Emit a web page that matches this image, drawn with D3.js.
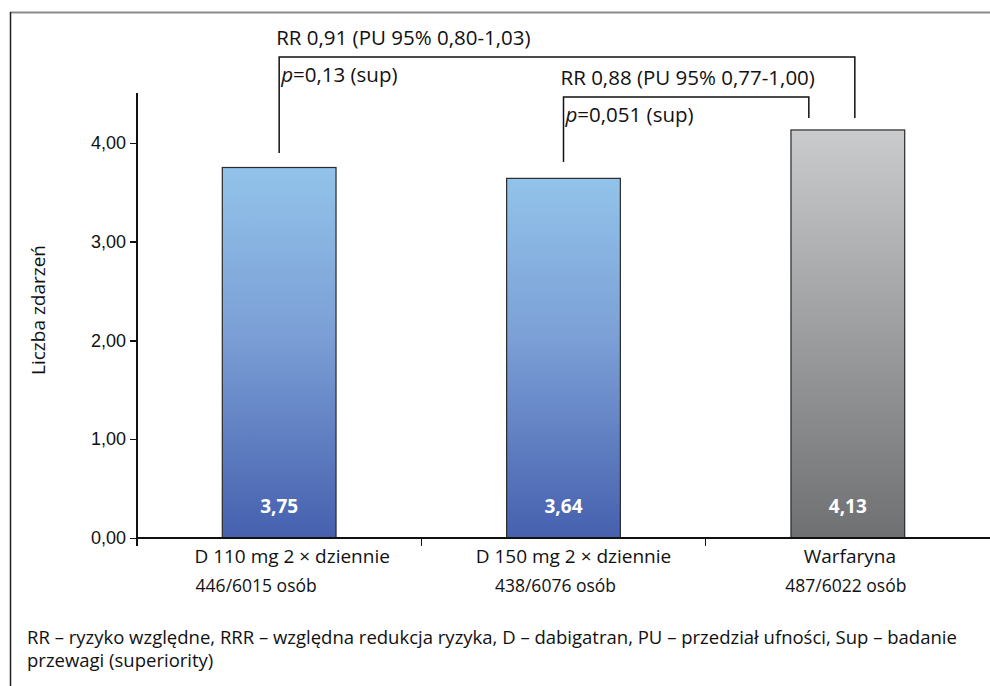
<!DOCTYPE html>
<html lang="pl">
<head>
    <meta charset="UTF-8">
    <title>Liczba zdarzeń</title>
    <script src="https://d3js.org/d3.v7.min.js"></script>
    <style>
        body { margin: 0; background: #fff; }
        svg { display: block; font-family: "Open Sans", "Noto Sans", sans-serif; }
        .axis text { font-size: 16px; fill: #111; }
        .axis path, .axis line { stroke: #111; stroke-width: 1.5; shape-rendering: crispEdges; }
    </style>
</head>
<body>
<script>
    // dane
    const categories = ["D 110 mg 2 × dziennie", "D 150 mg 2 × dziennie", "Warfaryna"];
    const subLabels = ["446/6015 osób", "438/6076 osób", "487/6022 osób"];
    const values = [3.75, 3.64, 4.13];
    const valueLabels = ["3,75", "3,64", "4,13"];
    const yTicks = [0, 1, 2, 3, 4];
    const comparisons = [
        { from: 0, to: 2, rr: "RR 0,91 (PU 95% 0,80-1,03)", p: "=0,13 (sup)" },
        { from: 1, to: 2, rr: "RR 0,88 (PU 95% 0,77-1,00)", p: "=0,051 (sup)" }
    ];
    const footnote = [
        "RR – ryzyko względne, RRR – względna redukcja ryzyka, D – dabigatran, PU – przedział ufności, Sup – badanie",
        "przewagi (superiority)"
    ];

    const width = 990, height = 686;
    const margin = { top: 93, right: 0, bottom: 148, left: 137 };
    const innerW = width - margin.left - margin.right;
    const innerH = height - margin.top - margin.bottom;

    // etykiety w oryginale nie są idealnie wyśrodkowane
    const catShift = [13, 10, 2];
    const subShift = [-23, -8, -2];

    const svg = d3.select("body").append("svg")
        .attr("width", width)
        .attr("height", height);

    // ramka
    svg.append("line").attr("x1", 10).attr("x2", width).attr("y1", 12.5).attr("y2", 12.5)
        .attr("stroke", "#8a8a8a").attr("stroke-width", 2);
    svg.append("line").attr("x1", 10.5).attr("x2", 10.5).attr("y1", 12).attr("y2", height)
        .attr("stroke", "#222").attr("stroke-width", 1.5);

    const defs = svg.append("defs");
    const gradBlue = defs.append("linearGradient").attr("id", "gBlue")
        .attr("x1", 0).attr("y1", 0).attr("x2", 0).attr("y2", 1);
    gradBlue.append("stop").attr("offset", "0%").attr("stop-color", "#92c3ea");
    gradBlue.append("stop").attr("offset", "45%").attr("stop-color", "#7b9fd6");
    gradBlue.append("stop").attr("offset", "100%").attr("stop-color", "#4660ae");
    const gradGray = defs.append("linearGradient").attr("id", "gGray")
        .attr("x1", 0).attr("y1", 0).attr("x2", 0).attr("y2", 1);
    gradGray.append("stop").attr("offset", "0%").attr("stop-color", "#cacbcd");
    gradGray.append("stop").attr("offset", "100%").attr("stop-color", "#6f7072");

    const g = svg.append("g").attr("transform", `translate(${margin.left},${margin.top})`);

    const x = d3.scaleBand().domain(categories).range([0, innerW]).padding(0);
    const y = d3.scaleLinear().domain([0, 4.5]).range([innerH, innerH - 4.5 * 98.8]);

    const barW = x.bandwidth() * 0.4;
    const cx = i => x(categories[i]) + x.bandwidth() / 2;

    // oś Y
    const yAxis = g.append("g").attr("class", "axis")
        .call(d3.axisLeft(y).tickValues(yTicks).tickSize(7).tickSizeOuter(0)
            .tickFormat(d => d3.format(".2f")(d).replace(".", ",")));
    yAxis.select(".domain").attr("d", `M0,${innerH}V0`);
    yAxis.selectAll("text").attr("x", -11).style("font-size", "18px");

    // słupki
    g.selectAll("rect.bar").data(values).enter().append("rect")
        .attr("class", "bar")
        .attr("x", (d, i) => cx(i) - barW / 2)
        .attr("y", d => y(d))
        .attr("width", barW)
        .attr("height", d => y(0) - y(d))
        .attr("fill", (d, i) => i === 2 ? "url(#gGray)" : "url(#gBlue)")
        .attr("stroke", "#2a2a2a").attr("stroke-width", 1.2);

    g.selectAll("text.val").data(valueLabels).enter().append("text")
        .attr("class", "val")
        .attr("x", (d, i) => cx(i))
        .attr("y", y(0) - 25)
        .attr("text-anchor", "middle")
        .attr("fill", "#fff")
        .style("font-size", "19px").style("font-weight", "bold")
        .text(d => d);

    // oś X
    const xAxis = g.append("g").attr("class", "axis")
        .attr("transform", `translate(0,${innerH})`);
    xAxis.append("path").attr("d", `M0,0H${innerW}`).attr("stroke", "#111").attr("stroke-width", 1.5);
    xAxis.selectAll("line.tick").data(categories).enter().append("line")
        .attr("x1", d => x(d)).attr("x2", d => x(d))
        .attr("y1", 0).attr("y2", 8);
    xAxis.selectAll("text.cat").data(categories).enter().append("text")
        .attr("class", "cat")
        .attr("x", (d, i) => cx(i) + catShift[i])
        .attr("y", 25)
        .attr("text-anchor", "middle")
        .style("font-size", "19px")
        .text(d => d);
    xAxis.selectAll("text.sub").data(subLabels).enter().append("text")
        .attr("class", "sub")
        .attr("x", (d, i) => cx(i) + subShift[i])
        .attr("y", 54)
        .attr("text-anchor", "middle")
        .style("font-size", "17.5px")
        .text(d => d);

    // tytuł osi Y
    svg.append("text")
        .attr("transform", `translate(45,310) rotate(-90)`)
        .attr("text-anchor", "middle")
        .style("font-size", "19px").attr("fill", "#111")
        .text("Liczba zdarzeń");

    // porównania
    const bracketTops = [57, 97];
    const leftEnds = [153, 162];
    comparisons.forEach((c, k) => {
        const x1 = cx(c.from), x2 = cx(c.to) + (k === 0 ? 7 : -39);
        const top = bracketTops[k] - margin.top;
        const gb = g.append("g");
        gb.append("path")
            .attr("d", `M${x1},${leftEnds[k] - margin.top}V${top}H${x2}V${118 - margin.top}`)
            .attr("fill", "none").attr("stroke", "#111").attr("stroke-width", 1.5);
        gb.append("text")
            .attr("x", x1 - 3).attr("y", top - 12)
            .style("font-size", "20.5px").attr("fill", "#111")
            .text(c.rr);
        const pt = gb.append("text")
            .attr("x", x1 + 2).attr("y", top + 25)
            .style("font-size", "20.5px").attr("fill", "#111");
        pt.append("tspan").style("font-style", "italic").text("p");
        pt.append("tspan").text(c.p);
    });

    // przypis
    svg.selectAll("text.foot").data(footnote).enter().append("text")
        .attr("class", "foot")
        .attr("x", 27)
        .attr("y", (d, i) => 644 + i * 23)
        .style("font-size", "18.5px").attr("fill", "#111")
        .text(d => d);
</script>
</body>
</html>
